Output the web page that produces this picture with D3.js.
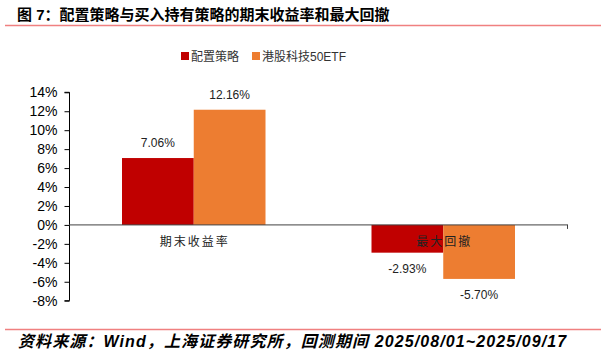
<!DOCTYPE html>
<html><head><meta charset="utf-8">
<script src="https://cdn.jsdelivr.net/npm/d3@7"></script>
<style>body{margin:0;background:#fff;}svg{display:block;}</style>
</head><body>
<svg id="c" width="607" height="356"></svg>
<script>
const categories = ["期末收益率", "最大回撤"];
const seriesNames = ["配置策略", "港股科技50ETF"];
const seriesColors = ["#C00000", "#ED7D31"];
const strategyValues = [7.06, -2.93];
const etfValues = [12.16, -5.70];
const yTicks = [14, 12, 10, 8, 6, 4, 2, 0, -2, -4, -6, -8];
const titleText = "图 7：配置策略与买入持有策略的期末收益率和最大回撤";
const sourceText = "资料来源：Wind，上海证券研究所，回测期间 2025/08/01~2025/09/17";

const series = [strategyValues, etfValues];
const svg = d3.select("#c");
const sans = "Liberation Sans, Arial, sans-serif";
const cjk = "'Noto Sans CJK SC', sans-serif";

// title
svg.append("text").attr("x", 17).attr("y", 20)
  .attr("font-family", "Liberation Sans, 'Noto Sans CJK SC', sans-serif")
  .attr("font-weight", "bold").attr("font-size", 15).attr("fill", "#000")
  .text(titleText);
svg.append("line").attr("x1", 5).attr("x2", 601).attr("y1", 25.5).attr("y2", 25.5)
  .attr("stroke", "#F08080").attr("stroke-width", 1.5);

// footer
svg.append("line").attr("x1", 5).attr("x2", 601).attr("y1", 329.5).attr("y2", 329.5)
  .attr("stroke", "#F08080").attr("stroke-width", 1.5);
svg.append("text").attr("x", 18).attr("y", 347)
  .attr("font-family", "Liberation Sans, 'Noto Sans CJK SC', sans-serif")
  .attr("font-weight", "bold").attr("font-style", "italic").attr("font-size", 16)
  .attr("letter-spacing", "1.1px")
  .attr("fill", "#000").text(sourceText);

// scales
const y = d3.scaleLinear().domain([-8, 14]).range([300.7, 92.3]);
const x0 = d3.scaleBand().domain(categories).range([69, 568]).paddingInner(0).paddingOuter(0);
const groupW = 143.5;
const x1 = d3.scaleBand().domain(seriesNames).range([0, groupW]).padding(0);

// y axis
const yAxis = d3.axisLeft(y).tickValues(yTicks).tickSize(5).tickPadding(7)
  .tickFormat(d => d + "%");
const gy = svg.append("g").attr("transform", "translate(69.5,0)").call(yAxis);
gy.select(".domain").attr("stroke", "#000").attr("d", `M-5,${y(14)}H0V${y(-8)}H-5`);
gy.selectAll(".tick line").attr("stroke", "#000");
gy.selectAll(".tick text").attr("font-family", sans).attr("font-size", 14).attr("fill", "#000");

// bars
categories.forEach((c, ci) => {
  const gx = x0(c) + (x0.bandwidth() - groupW) / 2;
  seriesNames.forEach((s, si) => {
    const v = series[si][ci];
    const bx = gx + x1(s);
    svg.append("rect")
      .attr("x", bx).attr("width", x1.bandwidth())
      .attr("y", Math.min(y(v), y(0))).attr("height", Math.abs(y(v) - y(0)))
      .attr("fill", seriesColors[si]);
    svg.append("text")
      .attr("x", bx + x1.bandwidth() / 2)
      .attr("y", v >= 0 ? y(v) - 11 : y(v) + 20)
      .attr("text-anchor", "middle").attr("font-family", sans).attr("font-size", 12)
      .attr("fill", "#222").text(v.toFixed(2) + "%");
  });
});

// zero line
svg.append("line").attr("x1", 69).attr("x2", 568).attr("y1", y(0)).attr("y2", y(0))
  .attr("stroke", "#404040").attr("stroke-width", 1);
svg.append("line").attr("x1", 567.5).attr("x2", 567.5).attr("y1", y(0)).attr("y2", y(0) + 4)
  .attr("stroke", "#404040").attr("stroke-width", 1);

// category labels
categories.forEach(c => {
  svg.append("text").attr("x", x0(c) + x0.bandwidth() / 2 + 1).attr("y", 246)
    .attr("text-anchor", "middle").attr("font-family", cjk).attr("font-size", 12)
    .attr("letter-spacing", "2px").attr("fill", "#222").text(c);
});

// legend
const legendX = [181, 252];
seriesNames.forEach((s, i) => {
  svg.append("rect").attr("x", legendX[i]).attr("y", 52).attr("width", 8).attr("height", 8)
    .attr("fill", seriesColors[i]);
  svg.append("text").attr("x", legendX[i] + 10).attr("y", 61)
    .attr("font-family", "Liberation Sans, 'Noto Sans CJK SC', sans-serif").attr("font-size", 12).attr("fill", "#333")
    .text(s);
});
</script>
</body></html>
